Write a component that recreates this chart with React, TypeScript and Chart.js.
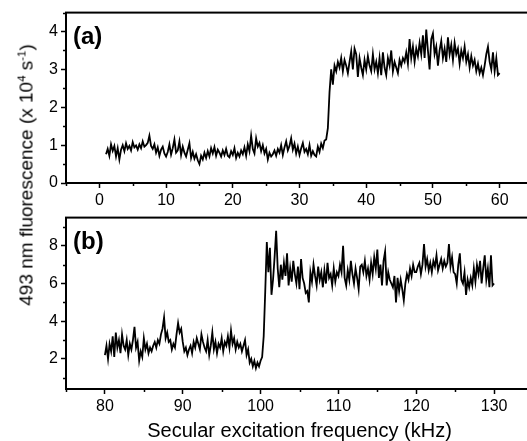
import React, { useEffect, useRef } from 'react';
import { Chart, registerables } from 'chart.js';
Chart.register(...registerables);

// Panel (a): scan from 1 to 60 kHz in 0.25 kHz steps
const topStart = 1;
const topStep = 0.25;
const topValues = [
  0.76, 0.90, 0.72, 1.02, 0.85, 0.98, 0.70, 0.92, 0.62, 0.88, 1.00, 0.84,
  1.05, 0.90, 0.98, 0.86, 1.08, 0.94, 0.99, 0.88, 1.02, 0.92, 1.10, 0.96,
  1.00, 1.06, 1.25, 0.98, 0.90, 1.02, 0.80, 0.94, 0.72, 0.88, 0.96, 0.78,
  0.70, 0.82, 1.02, 0.75, 0.92, 1.15, 0.80, 0.86, 1.10, 0.74, 0.96, 0.80,
  0.70, 0.88, 1.05, 0.66, 0.82, 0.64, 0.76, 0.60, 0.50, 0.72, 0.62, 0.80,
  0.66, 0.84, 0.70, 0.92, 0.78, 0.95, 0.72, 0.88, 0.80, 0.70, 0.86, 0.74,
  0.90, 0.72, 0.68, 0.84, 0.74, 0.92, 0.66, 0.80, 0.70, 0.86, 0.76, 0.94,
  0.72, 1.02, 0.84, 1.25, 0.90, 0.78, 1.18, 0.96, 1.06, 0.84, 1.00, 0.78,
  0.90, 0.62, 0.80, 0.70, 0.76, 0.86, 0.72, 0.90, 0.80, 1.00, 0.74, 0.94,
  1.10, 0.86, 0.98, 1.18, 0.88, 1.04, 0.78, 0.96, 0.74, 0.92, 1.06, 0.82,
  0.90, 0.76, 1.00, 0.72, 0.84, 0.74, 0.70, 0.96, 0.82, 1.04, 0.92, 1.12,
  1.15, 1.45, 2.40, 3.00, 2.60, 3.10, 2.95, 3.20, 3.05, 3.30, 2.95, 3.25,
  3.10, 2.90, 3.20, 3.48, 3.00, 3.55, 3.40, 2.80, 3.30, 3.05, 2.85, 3.25,
  3.00, 3.35, 3.10, 2.95, 3.40, 3.00, 3.20, 2.90, 3.30, 2.85, 3.45, 3.05,
  2.85, 3.30, 3.10, 3.50, 2.95, 3.20, 3.05, 2.90, 3.25, 3.10, 3.30, 3.20,
  3.45, 3.15, 3.80, 3.30, 3.60, 3.20, 3.55, 3.35, 3.70, 3.40, 3.90, 3.30,
  4.05, 3.50, 3.00, 3.80, 3.95, 3.40, 3.60, 3.10, 3.50, 3.75, 3.30, 3.55,
  3.20, 3.85, 3.40, 3.65, 3.25, 3.70, 3.40, 3.55, 3.15, 3.50, 3.30, 3.60,
  3.20, 3.40, 3.05, 3.35, 3.10, 3.25, 2.95, 3.15, 2.90, 3.05, 2.85, 3.10,
  3.40, 3.60, 3.20, 3.00, 3.45, 2.95, 3.30, 2.85, 2.90,
];

// Panel (b): scan from 80 to 130 kHz in 0.2 kHz steps
const bottomStart = 80;
const bottomStep = 0.2;
const bottomValues = [
  2.2, 2.7, 2.0, 2.8, 2.4, 3.2, 2.1, 3.4, 2.6, 3.0, 2.3, 3.3, 2.7, 2.5, 3.0,
  2.2, 2.8, 2.5, 3.0, 3.7, 2.6, 2.9, 1.9, 2.4, 2.1, 3.1, 2.5, 2.8, 2.3, 2.6,
  2.4, 2.7, 2.9, 2.6, 3.0, 2.8, 3.3, 3.6, 4.2, 3.1, 3.4, 2.9, 3.0, 2.5, 2.8,
  2.6, 3.3, 3.9, 3.4, 3.6, 2.9, 2.4, 2.6, 2.2, 2.5, 2.7, 2.3, 2.9, 2.6, 3.1,
  2.8, 2.5, 3.3, 2.9, 2.6, 2.4, 3.0, 2.2, 2.7, 3.4, 2.5, 2.9, 2.3, 2.8, 2.6,
  3.1, 2.4, 2.9, 2.7, 3.2, 2.6, 3.5, 2.8, 3.1, 2.5, 2.9, 2.6, 2.8, 2.4, 2.7,
  3.0, 2.2, 2.5, 1.8, 2.0, 1.6, 1.9, 1.5, 1.8, 1.6, 1.9, 2.1, 3.2, 5.6, 8.2,
  6.6, 7.9, 5.4, 6.2, 7.4, 8.8, 6.8, 5.8, 7.0, 6.2, 7.1, 6.4, 7.6, 5.9, 6.8,
  6.1, 7.2, 6.5, 6.0, 6.9, 5.7, 7.3, 6.3, 6.0, 5.5, 5.6, 5.0, 6.6, 6.1, 7.0,
  6.4, 5.9, 6.9, 6.2, 6.6, 5.8, 6.7, 6.0, 7.1, 6.3, 6.5, 5.9, 6.8, 6.1, 6.6,
  6.4, 7.0, 6.6, 8.0, 6.3, 5.9, 6.7, 6.2, 7.2, 6.5, 6.0, 6.8, 6.3, 5.7, 6.9,
  7.0, 6.6, 7.2, 6.4, 6.8, 6.2, 7.1, 6.5, 7.4, 6.8, 7.8, 6.3, 7.0, 5.9, 7.2,
  7.7, 5.9, 6.6, 6.2, 6.0, 5.8, 6.4, 5.0, 6.3, 5.6, 6.2, 5.7, 5.1, 6.0, 6.5,
  6.2, 6.8, 6.4, 7.0, 6.6, 6.6, 6.9, 7.1, 6.5, 7.0, 8.1, 6.9, 7.3, 6.7, 7.1,
  6.6, 7.2, 6.9, 7.5, 6.7, 7.0, 7.3, 6.8, 7.2, 6.9, 7.1, 8.1, 6.9, 7.4, 6.6,
  6.5, 6.0, 7.0, 7.6, 6.2, 6.0, 6.6, 5.4, 6.2, 5.8, 6.3, 5.9, 6.8, 6.1, 7.0,
  6.5, 7.2, 6.0, 6.8, 7.5, 6.2, 6.8, 5.8, 7.5, 5.9, 6.0,
];

const topXTicks = [0, 10, 20, 30, 40, 50, 60];
const topYTicks = [0, 1, 2, 3, 4];
const bottomXTicks = [80, 90, 100, 110, 120, 130];
const bottomYTicks = [2, 4, 6, 8];
const xTitle = 'Secular excitation frequency (kHz)';

const FONT = '"Liberation Sans", Arial, sans-serif';

const framePlugin = {
  id: 'frameAndMinor',
  afterDraw(chart: any, _args: any, opts: any) {
    const { ctx, chartArea } = chart;
    const { left, right, top, bottom } = chartArea;
    ctx.save();
    ctx.strokeStyle = '#000';
    // minor ticks
    ctx.lineWidth = 1.5;
    const drawMinor = (scale: any, majors: number[], horizontal: boolean) => {
      const step = majors[1] - majors[0];
      const vals: number[] = [];
      for (let v = majors[0] - step / 2; v >= scale.min - 1e-9; v -= step) vals.push(v);
      for (let v = majors[0] + step / 2; v <= scale.max + 1e-9; v += step) vals.push(v);
      vals.forEach((v) => {
        const p = Math.round(scale.getPixelForValue(v)) + 0.5;
        ctx.beginPath();
        if (horizontal) {
          ctx.moveTo(p, bottom);
          ctx.lineTo(p, bottom + 3);
        } else {
          ctx.moveTo(left, p);
          ctx.lineTo(left - 3, p);
        }
        ctx.stroke();
      });
    };
    drawMinor(chart.scales.x, opts.xTicks, true);
    drawMinor(chart.scales.y, opts.yTicks, false);
    // frame
    ctx.lineWidth = 2;
    ctx.strokeRect(left, top, right - left, bottom - top);
    // panel label
    ctx.fillStyle = '#000';
    ctx.font = 'bold 24px ' + FONT;
    ctx.textBaseline = 'middle';
    ctx.textAlign = 'left';
    ctx.fillText(opts.label, left + 7, top + 25);
    ctx.restore();
  },
};

function makeConfig(p: {
  start: number; step: number; values: number[];
  xMin: number; xMax: number; yMin: number; yMax: number;
  xTicks: number[]; yTicks: number[]; xHeight: number; label: string; title?: string;
}): any {
  const tickFont = { family: FONT, size: 16 };
  return {
    type: 'line',
    data: {
      datasets: [
        {
          data: p.values.map((y, i) => ({ x: p.start + i * p.step, y })),
          borderColor: '#000',
          borderWidth: 1.8,
          pointRadius: 0,
          tension: 0,
          fill: false,
        },
      ],
    },
    options: {
      responsive: false,
      animation: false,
      devicePixelRatio: 1,
      layout: { padding: { top: 9, right: 27, left: 0, bottom: 0 } },
      scales: {
        x: {
          type: 'linear',
          min: p.xMin,
          max: p.xMax,
          afterBuildTicks: (s: any) => { s.ticks = p.xTicks.map((v) => ({ value: v })); },
          afterFit: (s: any) => { s.height = p.xHeight; },
          grid: { drawOnChartArea: false, drawTicks: true, tickLength: 5, tickWidth: 1.5, tickColor: '#000' },
          border: { display: false },
          ticks: { font: tickFont, color: '#000', padding: 3, maxRotation: 0, autoSkip: false },
          title: p.title
            ? { display: true, text: p.title, color: '#000', font: { family: FONT, size: 20, lineHeight: 1 }, padding: 0 }
            : { display: false },
        },
        y: {
          type: 'linear',
          min: p.yMin,
          max: p.yMax,
          afterBuildTicks: (s: any) => { s.ticks = p.yTicks.map((v) => ({ value: v })); },
          afterFit: (s: any) => { s.width = 66; },
          grid: { drawOnChartArea: false, drawTicks: true, tickLength: 5, tickWidth: 1.5, tickColor: '#000' },
          border: { display: false },
          ticks: { font: tickFont, color: '#000', padding: 3 },
        },
      },
      plugins: {
        legend: { display: false },
        tooltip: { enabled: false },
        frameAndMinor: { xTicks: p.xTicks, yTicks: p.yTicks, label: p.label },
      },
    },
    plugins: [framePlugin],
  };
}

export default function App() {
  const topRef = useRef<HTMLCanvasElement>(null);
  const botRef = useRef<HTMLCanvasElement>(null);

  useEffect(() => {
    const top = new Chart(topRef.current as HTMLCanvasElement, makeConfig({
      start: topStart, step: topStep, values: topValues,
      xMin: -5, xMax: 65, yMin: 0, yMax: 4.5,
      xTicks: topXTicks, yTicks: topYTicks, xHeight: 29, label: '(a)',
    }));
    const bot = new Chart(botRef.current as HTMLCanvasElement, makeConfig({
      start: bottomStart, step: bottomStep, values: bottomValues,
      xMin: 75, xMax: 135, yMin: 0.4, yMax: 9.5,
      xTicks: bottomXTicks, yTicks: bottomYTicks, xHeight: 52, label: '(b)', title: xTitle,
    }));
    return () => { top.destroy(); bot.destroy(); };
  }, []);

  const sup: React.CSSProperties = { fontSize: '0.6em', verticalAlign: 'super', lineHeight: 0 };

  return (
    <div style={{ position: 'fixed', left: 0, top: 0, width: 527, height: 441, overflow: 'hidden', background: '#fff' }}>
      <canvas ref={topRef} width={560} height={212} style={{ position: 'absolute', left: 0, top: 0, width: 560, height: 212 }} />
      <canvas ref={botRef} width={560} height={236} style={{ position: 'absolute', left: 0, top: 205, width: 560, height: 236 }} />
      <div
        style={{
          position: 'absolute', left: 26, top: 175, transform: 'translate(-50%, -50%) rotate(-90deg)',
          whiteSpace: 'nowrap', fontFamily: FONT, fontSize: 19, lineHeight: 1, color: '#000',
        }}
      >
        493 nm fluorescence (x 10<span style={sup}>4</span> s<span style={sup}>-1</span>)
      </div>
    </div>
  );
}
